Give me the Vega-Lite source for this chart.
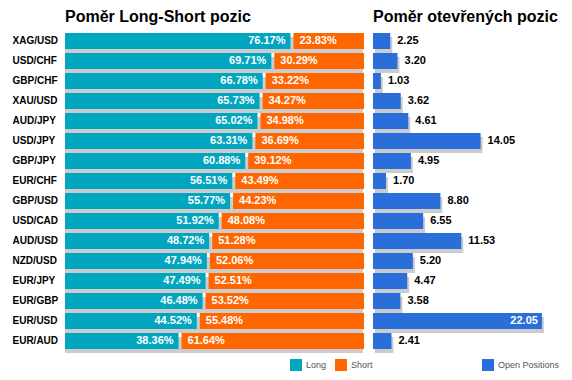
{
  "$schema": "https://vega.github.io/schema/vega-lite/v6.json",
  "background": "white",
  "padding": {"left": 12, "top": 9, "right": 5, "bottom": 5},
  "bounds": "flush",
  "spacing": 12,
  "config": {
    "font": "Liberation Sans",
    "view": {"stroke": null},
    "title": {"fontSize": 16, "fontWeight": "bold", "anchor": "start", "frame": "group", "color": "#000", "offset": 6}
  },
  "data": {
    "values": [
      {"pair": "XAG/USD", "long": 0.7617, "short": 0.2383, "open": 2.25},
      {"pair": "USD/CHF", "long": 0.6971, "short": 0.3029, "open": 3.20},
      {"pair": "GBP/CHF", "long": 0.6678, "short": 0.3322, "open": 1.03},
      {"pair": "XAU/USD", "long": 0.6573, "short": 0.3427, "open": 3.62},
      {"pair": "AUD/JPY", "long": 0.6502, "short": 0.3498, "open": 4.61},
      {"pair": "USD/JPY", "long": 0.6331, "short": 0.3669, "open": 14.05},
      {"pair": "GBP/JPY", "long": 0.6088, "short": 0.3912, "open": 4.95},
      {"pair": "EUR/CHF", "long": 0.5651, "short": 0.4349, "open": 1.70},
      {"pair": "GBP/USD", "long": 0.5577, "short": 0.4423, "open": 8.80},
      {"pair": "USD/CAD", "long": 0.5192, "short": 0.4808, "open": 6.55},
      {"pair": "AUD/USD", "long": 0.4872, "short": 0.5128, "open": 11.53},
      {"pair": "NZD/USD", "long": 0.4794, "short": 0.5206, "open": 5.20},
      {"pair": "EUR/JPY", "long": 0.4749, "short": 0.5251, "open": 4.47},
      {"pair": "EUR/GBP", "long": 0.4648, "short": 0.5352, "open": 3.58},
      {"pair": "EUR/USD", "long": 0.4452, "short": 0.5548, "open": 22.05},
      {"pair": "EUR/AUD", "long": 0.3836, "short": 0.6164, "open": 2.41}
    ]
  },
  "resolve": {"scale": {"color": "independent", "y": "independent"}, "legend": {"color": "independent"}},
  "hconcat": [
    {
      "title": {"text": "Poměr Long-Short pozic"},
      "width": 296,
      "height": 320,
      "encoding": {
        "y": {
          "field": "pair", "type": "nominal", "sort": null,
          "scale": {"paddingInner": 0.2, "paddingOuter": 0.1},
          "axis": {"title": null, "domain": false, "ticks": false, "labelAlign": "left", "labelPadding": 53,
                   "labelFontWeight": "bold", "labelFontSize": 10, "labelColor": "#000", "labelFont": "Liberation Sans"}
        }
      },
      "layer": [
        {
          "mark": {"type": "bar", "color": "#cccccc", "xOffset": 2, "x2Offset": 7, "yOffset": 4, "y2Offset": 4},
          "encoding": {
            "x": {"datum": 1, "type": "quantitative", "scale": {"domain": [0, 1], "nice": false}, "axis": null}
          }
        },
        {
          "mark": {"type": "bar"},
          "encoding": {
            "x": {"field": "long", "type": "quantitative"},
            "color": {"datum": "Long",
              "scale": {"domain": ["Long", "Short"], "range": ["#00a6bf", "#ff6600"]},
              "legend": {"title": null, "orient": "none", "legendX": 225, "legendY": 328, "direction": "horizontal",
                         "symbolType": "square", "symbolSize": 144, "symbolStrokeWidth": 0, "labelFontSize": 9, "labelColor": "#555",
                         "labelOffset": 4, "columnPadding": 8, "labelFont": "Liberation Sans"}}
          }
        },
        {
          "mark": {"type": "bar", "xOffset": 3, "x2Offset": 3},
          "encoding": {
            "x": {"field": "long", "type": "quantitative"},
            "x2": {"datum": 1},
            "color": {"datum": "Short"}
          }
        },
        {
          "mark": {"type": "text", "align": "right", "dx": -5, "color": "white", "fontWeight": "bold", "fontSize": 11},
          "encoding": {
            "x": {"field": "long", "type": "quantitative"},
            "text": {"field": "long", "type": "quantitative", "format": ".2%"}
          }
        },
        {
          "mark": {"type": "text", "align": "left", "dx": 9, "color": "white", "fontWeight": "bold", "fontSize": 11},
          "encoding": {
            "x": {"field": "long", "type": "quantitative"},
            "text": {"field": "short", "type": "quantitative", "format": ".2%"}
          }
        }
      ]
    },
    {
      "title": {"text": "Poměr otevřených pozic"},
      "width": 180,
      "height": 320,
      "encoding": {
        "y": {
          "field": "pair", "type": "nominal", "sort": null,
          "scale": {"paddingInner": 0.2, "paddingOuter": 0.1},
          "axis": null
        }
      },
      "layer": [
        {
          "mark": {"type": "bar", "color": "#cccccc", "xOffset": 2, "x2Offset": 3, "yOffset": 4, "y2Offset": 4},
          "encoding": {
            "x": {"field": "open", "type": "quantitative", "scale": {"domain": [0, 23.5], "nice": false}, "axis": null}
          }
        },
        {
          "mark": {"type": "bar"},
          "encoding": {
            "x": {"field": "open", "type": "quantitative"},
            "color": {"datum": "Open Positions",
              "scale": {"domain": ["Open Positions"], "range": ["#2a6fd9"]},
              "legend": {"title": null, "orient": "none", "legendX": 109, "legendY": 328, "direction": "horizontal",
                         "symbolType": "square", "symbolSize": 144, "symbolStrokeWidth": 0, "labelFontSize": 9, "labelColor": "#555",
                         "labelOffset": 4, "labelFont": "Liberation Sans"}}
          }
        },
        {
          "transform": [{"filter": "datum.open < 20"}],
          "mark": {"type": "text", "align": "left", "dx": 7, "color": "#000", "fontWeight": "bold", "fontSize": 11},
          "encoding": {
            "x": {"field": "open", "type": "quantitative"},
            "text": {"field": "open", "type": "quantitative", "format": ".2f"}
          }
        },
        {
          "transform": [{"filter": "datum.open >= 20"}],
          "mark": {"type": "text", "align": "right", "dx": -4, "color": "white", "fontWeight": "bold", "fontSize": 11},
          "encoding": {
            "x": {"field": "open", "type": "quantitative"},
            "text": {"field": "open", "type": "quantitative", "format": ".2f"}
          }
        }
      ]
    }
  ]
}
